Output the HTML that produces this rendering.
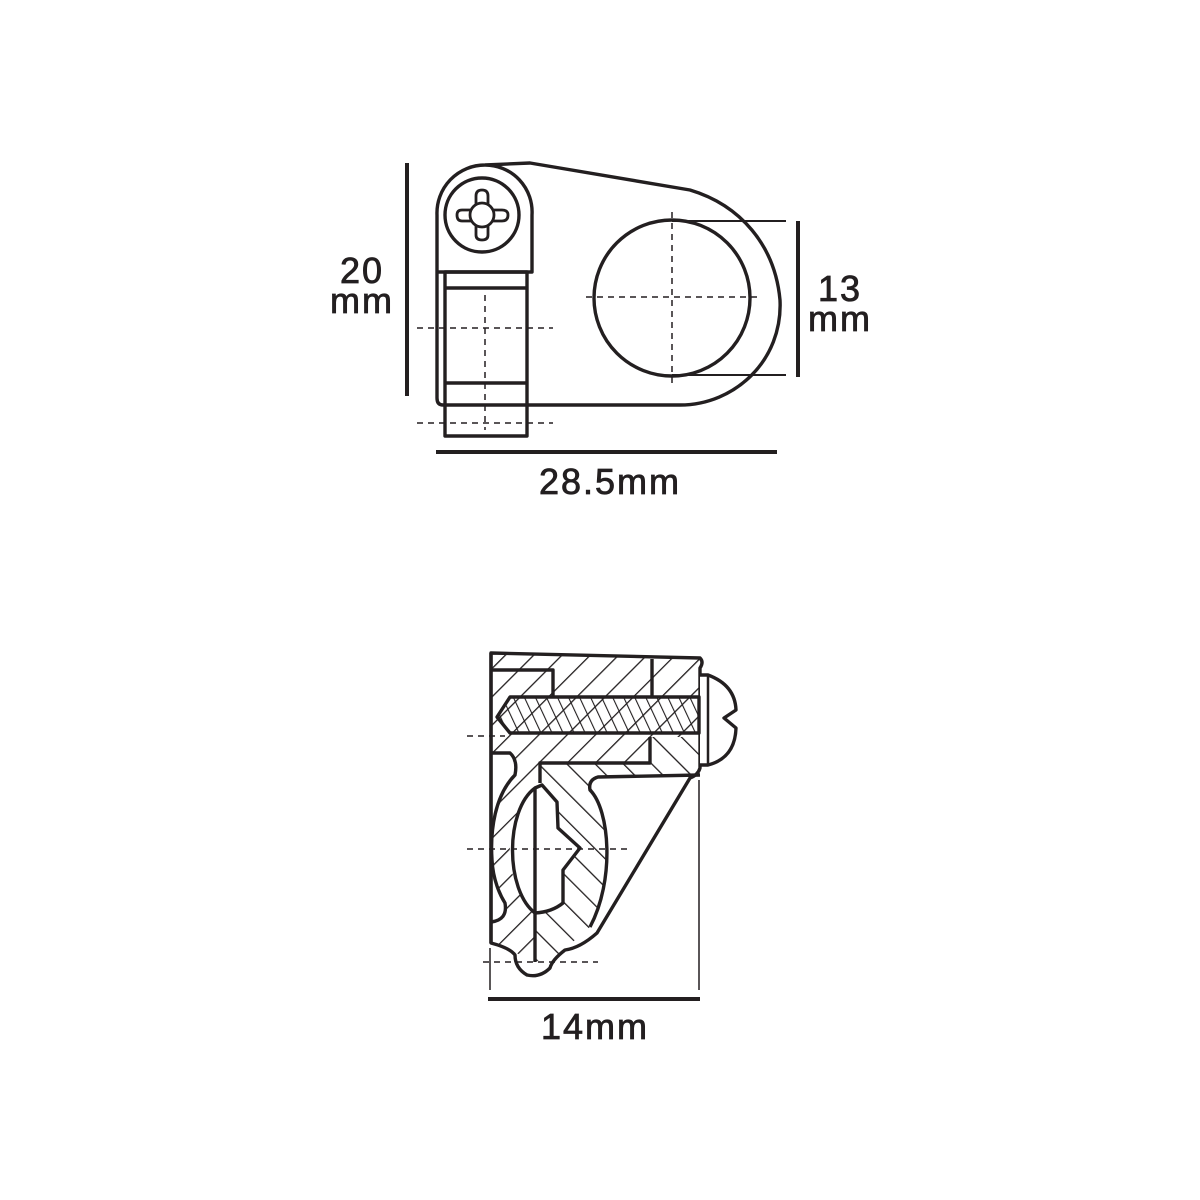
<!DOCTYPE html>
<html><head><meta charset="utf-8"><style>html,body{margin:0;padding:0;background:#fff}svg{display:block}text{font-family:"Liberation Sans",sans-serif;fill:#231f20;font-size:36px;letter-spacing:2px;stroke:#231f20;stroke-width:0.8}</style></head><body>
<svg width="1200" height="1200" viewBox="0 0 1200 1200" xmlns="http://www.w3.org/2000/svg">
<defs>
<pattern id="hA" width="20" height="20" patternUnits="userSpaceOnUse" patternTransform="rotate(45)"><line x1="0" y1="0" x2="0" y2="20" stroke="#231f20" stroke-width="2.6"/></pattern>
<pattern id="hB" width="20" height="20" patternUnits="userSpaceOnUse" patternTransform="rotate(-45)"><line x1="0" y1="0" x2="0" y2="20" stroke="#231f20" stroke-width="2.6"/></pattern>
<pattern id="hS" width="10" height="10" patternUnits="userSpaceOnUse" patternTransform="rotate(-25)"><line x1="0" y1="0" x2="0" y2="10" stroke="#231f20" stroke-width="2.2"/></pattern>
</defs>
<g fill="none" stroke="#231f20" stroke-width="3.4" stroke-linejoin="round">
<line x1="407" y1="163" x2="407" y2="396" stroke-width="4"/>
<path d="M437,272 L437,215 A48,48 0 0 1 485,165 L530,163 L690,190 C740,205 775,245 780,300 C783,360 735,405 680,405 L443,405 Q437,405 437,398 L437,272 L532,272 L532,215 A47,47 0 0 0 485,165"/>
<circle cx="482" cy="215" r="37"/>
<path d="M476,210 L476,196 Q476,190 482,190 Q488,190 488,196 L488,210 L502,210 Q508,210 508,215 Q508,221 502,221 L488,221 L488,235 Q488,240 482,240 Q476,240 476,235 L476,221 L462,221 Q457,221 457,215 Q457,210 462,210 Z" stroke-width="2.8"/>
<circle cx="482" cy="215" r="12" stroke-width="2.8" fill="#fff"/>
<rect x="445" y="272" width="82" height="164"/>
<line x1="445" y1="288" x2="527" y2="288"/>
<line x1="445" y1="383" x2="527" y2="383"/>
<circle cx="672" cy="298" r="78"/>
<line x1="672" y1="221" x2="786" y2="221" stroke-width="2"/>
<line x1="672" y1="375" x2="786" y2="375" stroke-width="2"/>
<line x1="798" y1="221" x2="798" y2="377" stroke-width="4"/>
<line x1="436" y1="452" x2="777" y2="452" stroke-width="4"/>
<g stroke-width="1.5" stroke-dasharray="6,5">
<line x1="417" y1="328" x2="553" y2="328"/>
<line x1="417" y1="423" x2="553" y2="423"/>
<line x1="485" y1="295" x2="485" y2="430"/>
<line x1="672" y1="212" x2="672" y2="385"/>
<line x1="586" y1="297" x2="762" y2="297"/>
</g>
<path d="M491,653 L700,658 L700,737 L650,737 L650,763 L540,763 L540,783 L535,788 L513,777 Q515,760 510,753 L491,753 Z" fill="url(#hA)" stroke="none"/>
<path d="M650,737 L700,737 L700,775 L593,777 L590,787 C610,810 615,880 590,927 L560,953 L535,962 L535,913 Q552,912 563,903 L563,870 L580,848 L558,828 L557,802 L542,785 L540,783 L540,763 L650,763 Z" fill="url(#hB)" stroke="none"/>
<path d="M513,777 C495,795 490,830 492,860 C493,880 500,895 505,903 Q508,918 491,922 L491,943 L510,950 L535,962 L535,913 C515,895 505,860 512,835 C517,810 525,795 535,788 Z" fill="url(#hA)" stroke="none"/>
<path d="M491,653 L700,658 Q704,662 700,668 L700,768 Q698,775 690,778 L597,933 Q580,948 565,950 Q552,960 550,968 Q540,978 527,975 Q515,968 515,955 Q510,948 491,943 Z"/>
<path d="M700,675 L708,675 Q735,685 736,710 L724,718 L736,728 Q735,758 708,765 L700,765" fill="#fff"/>
<line x1="708" y1="675" x2="708" y2="765" stroke-width="2.5"/>
<path d="M497,717 L510,697 L699,697 L699,733 L510,733 Z" fill="url(#hS)"/>
<path d="M492,670 L553,670 L553,697"/>
<line x1="652" y1="659" x2="652" y2="697"/>
<path d="M540,783 L540,763 L650,763 L650,737"/>
<path d="M700,775 L598,777 Q588,780 590,790 C610,810 615,880 590,927"/>
<path d="M491,753 L510,753 Q518,760 515,775 C495,795 490,830 492,860 C493,880 500,895 505,903 Q508,920 491,922"/>
<path d="M535,788 C505,810 505,890 535,913 Q552,912 563,903 L563,870 L580,848 L558,828 L557,802 L542,785 L535,788 Z"/>
<line x1="535" y1="788" x2="535" y2="962"/>
<line x1="491" y1="653" x2="491" y2="943"/>
<line x1="490" y1="948" x2="490" y2="990" stroke-width="1.5"/>
<line x1="699" y1="780" x2="699" y2="990" stroke-width="1.5"/>
<line x1="488" y1="999" x2="700" y2="999" stroke-width="4"/>
<g stroke-width="1.5" stroke-dasharray="6,5">
<line x1="467" y1="736" x2="505" y2="736"/>
<line x1="467" y1="849" x2="628" y2="849"/>
<line x1="483" y1="962" x2="598" y2="962"/>
</g>
</g>
<text x="362" y="283" text-anchor="middle">20</text>
<text x="362" y="313" text-anchor="middle">mm</text>
<text x="840" y="301" text-anchor="middle">13</text>
<text x="840" y="331" text-anchor="middle">mm</text>
<text x="610" y="494" text-anchor="middle">28.5mm</text>
<text x="595" y="1039" text-anchor="middle">14mm</text>
</svg>
</body></html>
